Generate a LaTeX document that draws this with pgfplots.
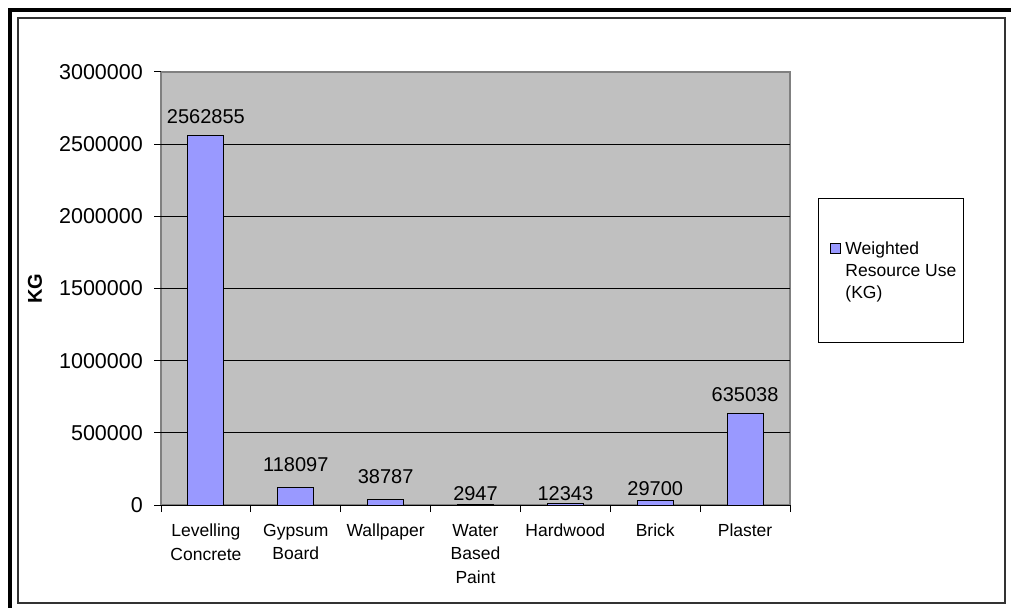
\documentclass[border=0pt]{standalone}
\usepackage{fontspec}
\setmainfont{Liberation Sans}
\usepackage{pgfplots}
\pgfplotsset{compat=1.18}
\definecolor{barc}{HTML}{9999FF}
\definecolor{bgc}{HTML}{C0C0C0}
\definecolor{bord}{HTML}{808080}
\begin{document}
\begin{tikzpicture}[x=1pt,y=1pt]
\useasboundingbox (0,0) rectangle (1011,608);
\fill[black] (8,600) rectangle (1011,596);
\fill[black] (8,600) rectangle (12,0);
\draw[black!80, line width=2pt] (18,590) rectangle (1005,5);
\begin{axis}[
  at={(161pt,103pt)}, anchor=south west,
  width=629pt, height=433pt, scale only axis,
  xmin=-0.5, xmax=6.5, ymin=0, ymax=3000000,
  ybar,
  scaled y ticks=false,
  axis background/.style={fill=bgc, draw=bord, line width=1.6pt},
  axis line style={draw=none},
  ytick={0,500000,1000000,1500000,2000000,2500000},
  yticklabels={0,500000,1000000,1500000,2000000,2500000},
  extra y ticks={3000000},
  extra y tick labels={3000000},
  extra y tick style={grid=none},
  xtick={0,1,2,3,4,5,6},
  xticklabels={Levelling\\Concrete, Gypsum\\Board, Wallpaper, Water\\Based\\Paint, Hardwood, Brick, Plaster},
  minor xtick={-0.5,0.5,1.5,2.5,3.5,4.5,5.5,6.5},
  every major x tick/.append style={draw=none},
  xtick pos=bottom, ytick pos=left,
  tick align=outside,
  major tick length=7pt, minor tick length=7pt,
  tick style={black, line width=1pt},
  ymajorgrids,
  major grid style={black, line width=1pt},
  yticklabel style={font=\fontsize{21.5}{25}\selectfont, inner sep=0pt, xshift=-11pt},
  xticklabel style={font=\fontsize{17.5}{23.5}\selectfont, align=center, anchor=north, inner sep=0pt, yshift=-12pt},
  ylabel={\textbf{KG}},
  every axis y label/.style={at={(axis description cs:-0.2003,0.5)}, rotate=90, anchor=center, font=\fontsize{20}{24}\selectfont},
  legend style={at={(axis description cs:1.0445,0.709)}, anchor=north west, draw=black, line width=1pt, fill=white, inner xsep=5pt, inner ysep=41pt, font=\fontsize{17.5}{22}\selectfont, cells={align=left}},
  every node near coord/.append style={font=\fontsize{20}{24}\selectfont, inner sep=0pt, black},
]
\addplot[ybar, bar width=36pt, fill=barc, draw=black, line width=1pt,
  nodes near coords, point meta=explicit symbolic,
  visualization depends on={value \thisrow{sh} \as \labshift},
  every node near coord/.append style={yshift=\labshift pt},
  legend image code/.code={\path (0pt,0pt) (19pt,0pt); \draw[fill=barc, draw=black, line width=1pt] (7pt,17pt) rectangle (17pt,27pt);}]
  table[x=x, y=y, meta=lab] {
x y lab sh
0 2562855 2562855 11
1 118097 118097 15.5
2 38787 38787 15
3 2947 2947 3.5
4 12343 12343 2.5
5 29700 29700 4.7
6 635038 635038 11
};
\addlegendentry{Weighted\\Resource Use\\(KG)}
\end{axis}
\end{tikzpicture}
\end{document}
